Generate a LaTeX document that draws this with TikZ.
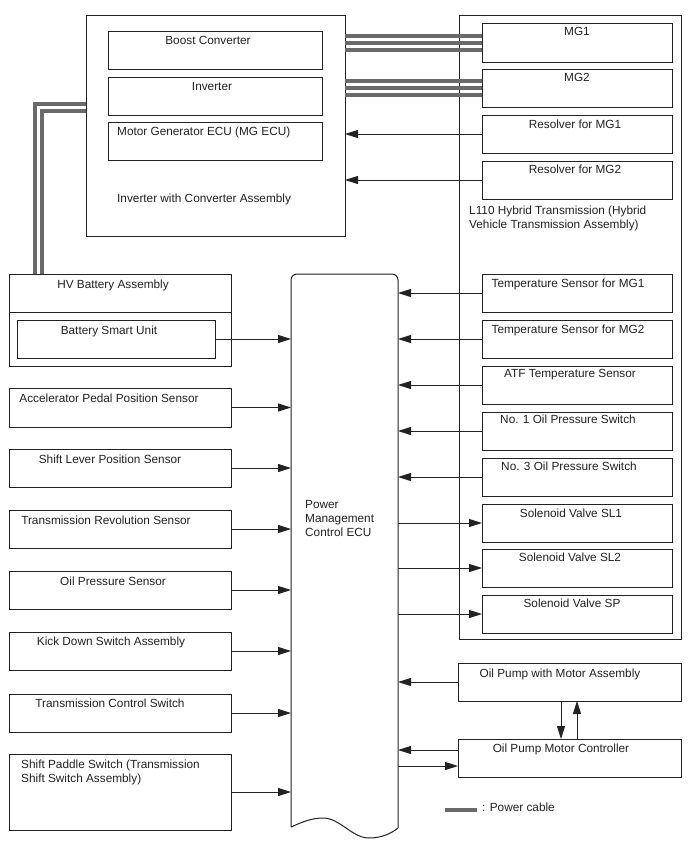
\documentclass[tikz,border=0pt]{standalone}
\usepackage{fontspec}
\setmainfont{Liberation Sans}
\usetikzlibrary{arrows.meta,calc}
\definecolor{cablegray}{HTML}{6A6A6A}
\definecolor{ink}{HTML}{222222}
\newcommand\mybox[5]{\node[box, minimum width=#4pt, minimum height=#5pt] (#1) at (#2,#3) {};}
\begin{document}
\begin{tikzpicture}[x=1pt,y=-1pt,
  box/.style={draw=ink, line width=1pt, inner sep=0pt, outer sep=0pt, anchor=north west},
  lbl/.style={inner sep=0pt, anchor=base, text=ink, font=\fontsize{11.8}{14}\selectfont},
  lblw/.style={lbl, anchor=base west},
  arr/.style={draw=ink, line width=1pt, -{Triangle[length=13pt,width=8pt]}},
  cable/.style={draw=cablegray, line width=4pt, line join=miter}]
\useasboundingbox[fill=white] (0,0) rectangle (688,852);

% outer assemblies
\mybox{inv}{86}{15}{259}{221}
\mybox{trans}{459}{15}{222}{624}

% inverter inner boxes
\mybox{boost}{108}{31}{214}{38}
\mybox{inverter}{108}{77}{214}{38}
\mybox{mgecu}{108}{122}{214}{38}

% transmission inner boxes
\mybox{mg1}{482}{23}{190}{39}
\mybox{mg2}{482}{69}{190}{38}
\mybox{rs1}{482}{115}{190}{38}
\mybox{rs2}{482}{161}{190}{38}
\mybox{t1}{482}{274}{190}{38}
\mybox{t2}{482}{320}{190}{38}
\mybox{atf}{482}{366}{190}{38}
\mybox{no1}{482}{412}{190}{38}
\mybox{no3}{482}{458}{190}{38}
\mybox{sl1}{482}{504}{190}{38}
\mybox{sl2}{482}{549}{190}{38}
\mybox{sp}{482}{595}{190}{38}

% oil pump
\mybox{op}{458}{663}{223}{38}
\mybox{ctl}{458}{739}{223}{38}

% left column
\mybox{hv}{9}{274}{222}{92}
\draw[draw=ink, line width=1pt] ([yshift=-38pt]hv.north west) -- ([yshift=-38pt]hv.north east);
\mybox{bsu}{17}{320}{198}{38}
\mybox{acc}{9}{388}{222}{39}
\mybox{slp}{9}{449}{222}{38}
\mybox{trs}{9}{510}{222}{38}
\mybox{ops}{9}{571}{222}{38}
\mybox{kd}{9}{632}{222}{38}
\mybox{tcs}{9}{694}{222}{38}
\mybox{pad}{9}{754}{222}{76}

% ECU
\node[inner sep=0pt, outer sep=0pt, anchor=north west, minimum width=107pt, minimum height=554pt] (ecu) at (291,274) {};
\draw[draw=ink, line width=1pt, rounded corners=6pt] (ecu.north west |- 0,827) -- (ecu.north west) -- (ecu.north east) -- (ecu.north east |- 0,828);
\draw[draw=ink, line width=1pt] (ecu.north east |- 0,828) .. controls (392,833) and (382,838) .. (369,838)
  .. controls (352,838) and (340,818) .. (323,818)
  .. controls (312,818) and (302,822) .. (ecu.north west |- 0,827);

% power cables
\foreach \s in {7,0,-7} {
  \draw[cable] ([yshift=\s pt]mg1.west) -- ([yshift=\s pt]mg1.west -| inv.east);
  \draw[cable] ([yshift=\s pt]mg2.west) -- ([yshift=\s pt]mg2.west -| inv.east);
}
\draw[cable] ([yshift=22pt]inv.west) -| ([xshift=26pt]hv.north west);
\draw[cable] ([yshift=15pt]inv.west) -| ([xshift=32.5pt]hv.north west);

% arrows right side
\draw[arr] (rs1.west) -- (rs1.west -| inv.east);
\draw[arr] (rs2.west) -- (rs2.west -| inv.east);
\foreach \n in {t1,t2,atf,no1,no3} { \draw[arr] (\n.west) -- (\n.west -| ecu.east); }
\foreach \n in {sl1,sl2,sp} { \draw[arr] (\n.west -| ecu.east) -- (\n.west); }
\draw[arr] (op.west) -- (op.west -| ecu.east);
\draw[arr] ([yshift=8pt]ctl.west) -- ([yshift=8pt]ctl.west -| ecu.east);
\draw[arr] ([yshift=-8pt]ctl.west -| ecu.east) -- ([yshift=-8pt]ctl.west);
\draw[arr] ([xshift=-8.5pt]op.south) -- ([xshift=-8.5pt]op.south |- ctl.north);
\draw[arr] ([xshift=7.5pt]ctl.north) -- ([xshift=7.5pt]ctl.north |- op.south);

% arrows left side
\foreach \n in {bsu,acc,slp,trs,ops,kd,tcs,pad} { \draw[arr] (\n.east) -- (\n.east -| ecu.west); }

% labels
\node[lbl] (boostT) at (208,44) {Boost Converter};
\node[lbl] (inverterT) at (212,90) {Inverter};
\node[lblw] (mgecuT) at (117,135) {Motor Generator ECU (MG ECU)};
\node[lblw] (invT) at (117,202) {Inverter with Converter Assembly};
\node[lbl] (mg1T) at (577,35) {MG1};
\node[lbl] (mg2T) at (577,81) {MG2};
\node[lbl] (rs1T) at (575,128) {Resolver for MG1};
\node[lbl] (rs2T) at (575,173) {Resolver for MG2};
\node[lblw] (transTa) at (469,214) {L110 Hybrid Transmission (Hybrid};
\node[lblw] (transTb) at (469,228) {Vehicle Transmission Assembly)};
\node[lbl] (t1T) at (568,287) {Temperature Sensor for MG1};
\node[lbl] (t2T) at (568,333) {Temperature Sensor for MG2};
\node[lbl] (atfT) at (570,377) {ATF Temperature Sensor};
\node[lbl] (no1T) at (568,423) {No. 1 Oil Pressure Switch};
\node[lbl] (no3T) at (569,470) {No. 3 Oil Pressure Switch};
\node[lbl] (sl1T) at (571,517) {Solenoid Valve SL1};
\node[lbl] (sl2T) at (570,561) {Solenoid Valve SL2};
\node[lbl] (spT) at (572,607) {Solenoid Valve SP};
\node[lbl] (opT) at (560,677) {Oil Pump with Motor Assembly};
\node[lbl] (ctlT) at (561,752) {Oil Pump Motor Controller};
\node[lbl] (hvT) at (113,288) {HV Battery Assembly};
\node[lbl] (bsuT) at (109,334) {Battery Smart Unit};
\node[lbl] (accT) at (109,402) {Accelerator Pedal Position Sensor};
\node[lbl] (slpT) at (110,463) {Shift Lever Position Sensor};
\node[lbl] (trsT) at (106,524) {Transmission Revolution Sensor};
\node[lbl] (opsT) at (113,585) {Oil Pressure Sensor};
\node[lbl] (kdT) at (111,645) {Kick Down Switch Assembly};
\node[lbl] (tcsT) at (110,707) {Transmission Control Switch};
\node[lblw] (padTa) at (21,768) {Shift Paddle Switch (Transmission};
\node[lblw] (padTb) at (21,782) {Shift Switch Assembly)};
\node[lblw] (ecuTa) at (305,508) {Power};
\node[lblw] (ecuTb) at (305,522) {Management};
\node[lblw] (ecuTc) at (305,536) {Control ECU};

% legend
\coordinate (legA) at (445,810);
\coordinate (legB) at (477,810);
\draw[cable] (legA) -- (legB);
\node[lblw] (legT) at (482,811) {: Power cable};
\end{tikzpicture}
\end{document}
